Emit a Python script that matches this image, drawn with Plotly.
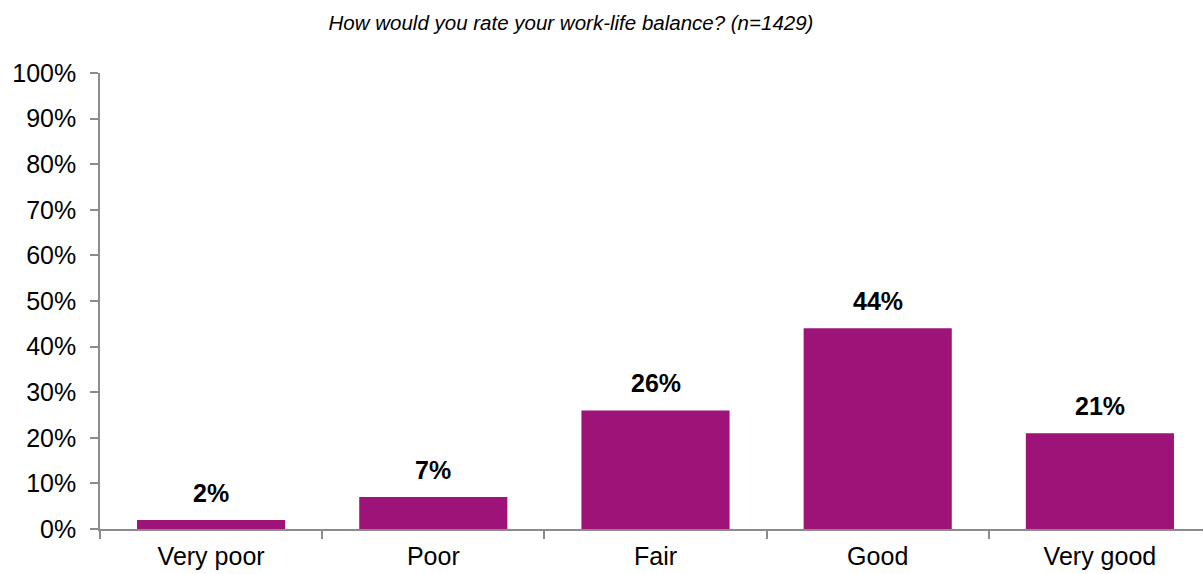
import plotly.graph_objects as go

# Survey responses: share of respondents per rating (%)
categories = ["Very poor", "Poor", "Fair", "Good", "Very good"]
shares = [2, 7, 26, 44, 21]
y_ticks = list(range(0, 101, 10))
y_tick_labels = [f"{v}%" for v in y_ticks]
title_text = "How would you rate your work-life balance? (n=1429)"

BAR_COLOR = "#9D1378"
AXIS_COLOR = "#8C8C8C"
FONT = "Arial, Liberation Sans, sans-serif"

fig = go.Figure(
    go.Bar(
        x=categories,
        y=shares,
        marker=dict(color=BAR_COLOR, line=dict(width=0)),
        hoverinfo="skip",
    )
)

# Bold value labels above each bar
for cat, val in zip(categories, shares):
    fig.add_annotation(
        x=cat, y=val, xref="x", yref="y",
        text=f"<b>{val}%</b>",
        showarrow=False, yanchor="bottom", yshift=11,
        font=dict(family=FONT, size=25, color="black"),
    )

fig.update_layout(
    width=1203, height=574,
    margin=dict(l=100, r=0, t=73, b=45),
    paper_bgcolor="white", plot_bgcolor="white",
    bargap=1/3,
    showlegend=False,
    title=dict(
        text=f"<i>{title_text}</i>",
        x=571/1203, xanchor="center", xref="container",
        y=1 - 23/574, yanchor="middle", yref="container",
        font=dict(family=FONT, size=20.5, color="black"),
    ),
)

fig.update_xaxes(
    type="category",
    range=[-0.5, -0.5 + 1103/222.2],
    showline=True, linecolor=AXIS_COLOR, linewidth=1.5,
    ticks="outside", tickson="boundaries", ticklen=8, tickcolor=AXIS_COLOR, tickwidth=1.5,
    tickfont=dict(family=FONT, size=25, color="black"),
    ticklabelstandoff=4,
    showgrid=False, zeroline=False,
)
fig.update_yaxes(
    range=[0, 100],
    tickmode="array", tickvals=y_ticks, ticktext=y_tick_labels,
    showline=True, linecolor=AXIS_COLOR, linewidth=1.5,
    ticks="outside", ticklen=8, tickcolor=AXIS_COLOR, tickwidth=1.5,
    tickfont=dict(family=FONT, size=25, color="black"),
    ticklabelstandoff=9,
    showgrid=False, zeroline=False,
)

fig.write_html("out.html")
